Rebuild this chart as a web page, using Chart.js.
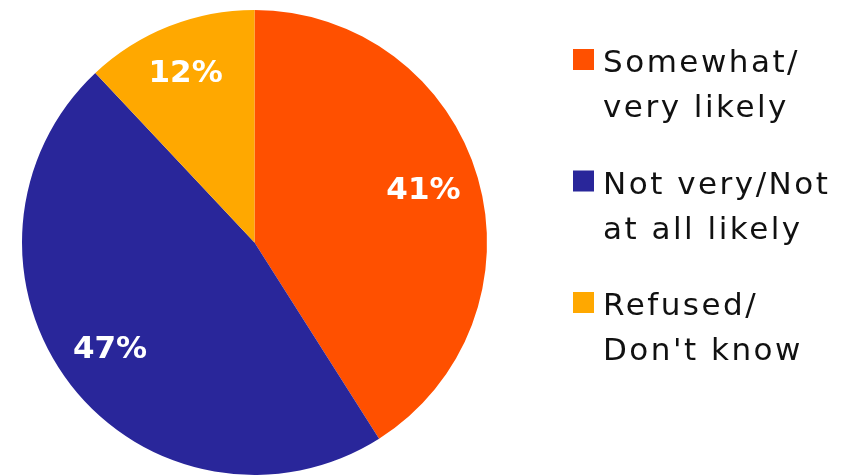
<!DOCTYPE html>
<html>
<head>
<meta charset="utf-8">
<script src="https://cdn.jsdelivr.net/npm/chart.js@4.4.1/dist/chart.umd.min.js"></script>
<style>
    html, body { margin: 0; padding: 0; background: #fff; }
    #wrap { position: relative; width: 854px; height: 476px; }
</style>
</head>
<body>
<div id="wrap"><canvas id="likelyChart"></canvas></div>
<script>
    // Pie: how likely (share of respondents, %)
    const categories = [
        ['Somewhat/', 'very likely'],
        ['Not very/Not', 'at all likely'],
        ['Refused/', "Don't know"]
    ];
    const shares = [41, 47, 12];
    const sliceColors = ['#FF5000', '#29269A', '#FFA800'];

    // percent labels inside the slices
    const sliceLabels = {
        id: 'sliceLabels',
        afterDatasetsDraw(chart) {
            const ctx = chart.ctx;
            const arcs = chart.getDatasetMeta(0).data;
            ctx.save();
            ctx.fillStyle = '#ffffff';
            ctx.font = 'bold 31px "DejaVu Sans"';
            ctx.textAlign = 'center';
            ctx.textBaseline = 'middle';
            arcs.forEach((arc, i) => {
                const p = arc.getProps(['x', 'y', 'startAngle', 'endAngle', 'outerRadius'], true);
                const mid = (p.startAngle + p.endAngle) / 2;
                const r = p.outerRadius * 0.77;
                ctx.fillText(shares[i] + '%', p.x + Math.cos(mid) * r - 3, p.y + Math.sin(mid) * r - 2);
            });
            ctx.restore();
        }
    };

    // legend on the right, two lines per entry
    const sideLegend = {
        id: 'sideLegend',
        afterDraw(chart) {
            const ctx = chart.ctx;
            const x0 = 573, top0 = 49, step = 121.5, box = 21;
            ctx.save();
            ctx.font = '31px "DejaVu Sans"';
            ctx.letterSpacing = '2.5px';
            ctx.textAlign = 'left';
            ctx.textBaseline = 'alphabetic';
            categories.forEach((lines, i) => {
                const top = top0 + i * step;
                ctx.fillStyle = sliceColors[i];
                ctx.fillRect(x0, top, box, box);
                ctx.fillStyle = '#111111';
                lines.forEach((t, j) => ctx.fillText(t, x0 + 30, top + 23 + j * 45));
            });
            ctx.restore();
        }
    };

    const ctx1 = document.getElementById('likelyChart').getContext('2d');

    new Chart(ctx1, {
        type: 'pie',
        data: {
            labels: categories,
            datasets: [{
                data: shares,
                backgroundColor: sliceColors,
                borderWidth: 0
            }]
        },
        options: {
            responsive: true,
            maintainAspectRatio: false,
            animation: false,
            layout: {
                padding: { left: 22, right: 367, top: 10, bottom: 1 }
            },
            plugins: {
                legend: { display: false },
                tooltip: { enabled: false }
            }
        },
        plugins: [sliceLabels, sideLegend]
    });
</script>
</body>
</html>
